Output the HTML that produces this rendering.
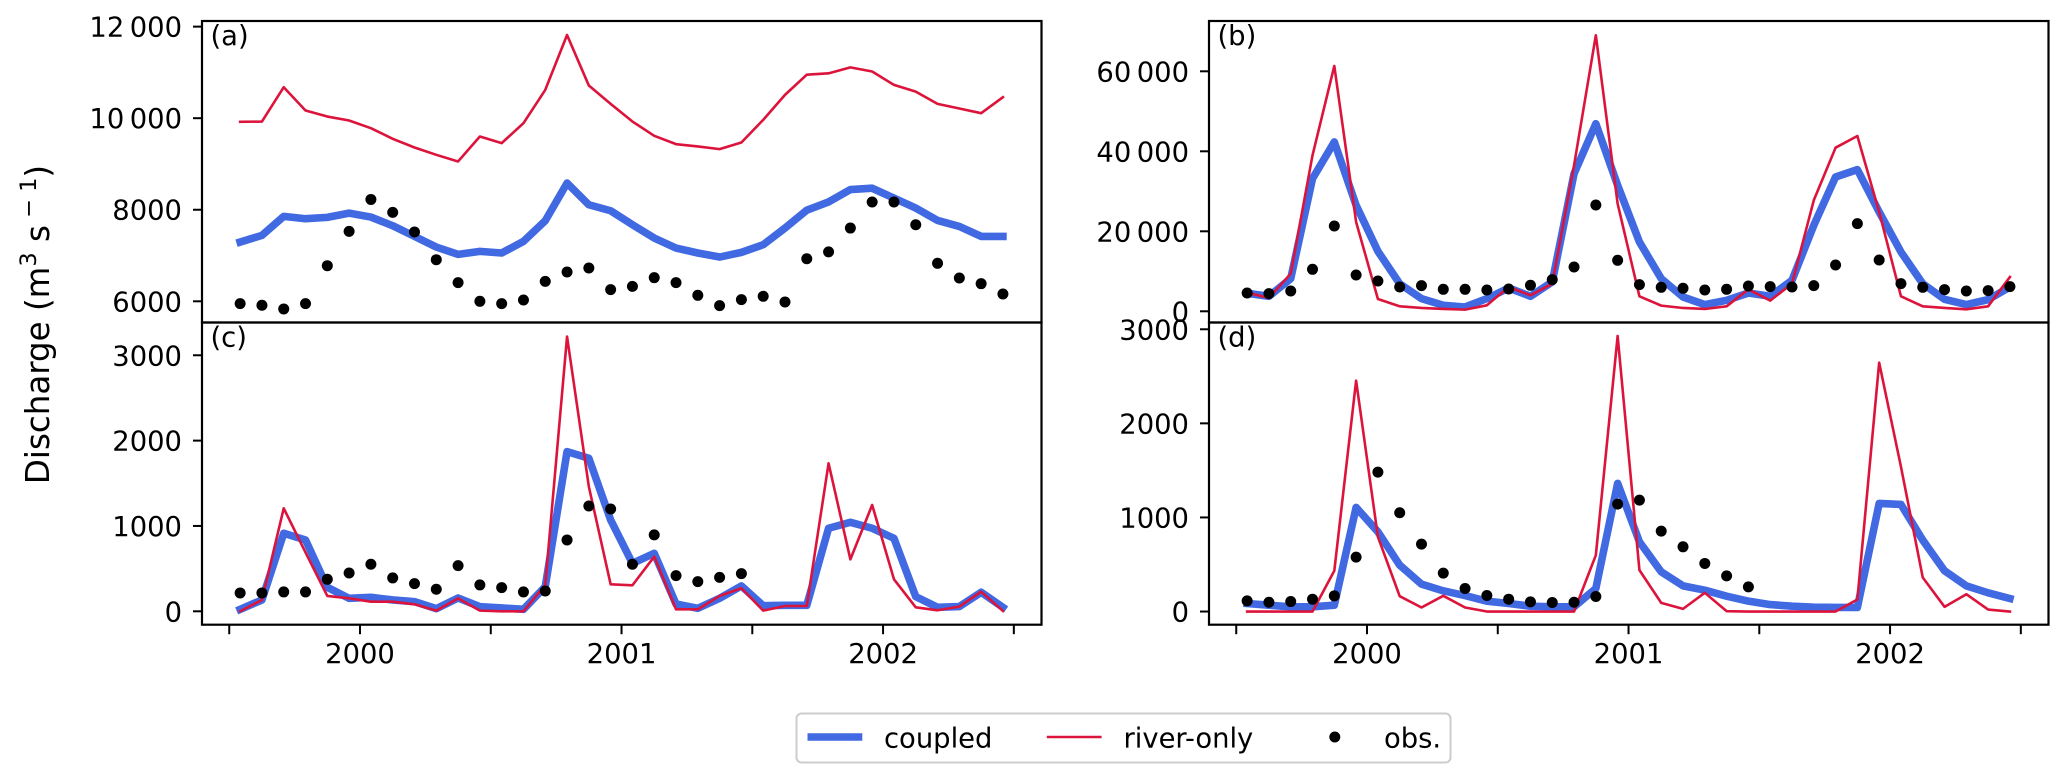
<!DOCTYPE html>
<html lang="en">
<head>
<meta charset="utf-8">
<title>Discharge comparison</title>
<style>
html,body{margin:0;padding:0;background:#fff;width:2067px;height:782px;overflow:hidden}
svg{display:block}
text{font-family:"DejaVu Sans","Liberation Sans",sans-serif;fill:#000}
</style>
</head>
<body>
<svg id="chart" xmlns="http://www.w3.org/2000/svg" width="2067" height="782" viewBox="0 0 2067 782">
  <rect x="0" y="0" width="2067" height="782" fill="#fff"/>
  <g id="panels"></g>
  <text x="0" y="0" transform="translate(49,324.5) rotate(-90)" text-anchor="middle" font-size="32.5">Discharge (m<tspan dy="-13" font-size="22.5">3</tspan><tspan dy="13"> s</tspan><tspan dy="-13" font-size="22.5"> − 1</tspan><tspan dy="13">)</tspan></text>
  <g>
    <rect x="796.5" y="713.5" width="654" height="49" rx="5" ry="5" fill="#fff" stroke="#cccccc" stroke-width="2"/>
    <line x1="807.5" y1="737" x2="862.3" y2="737" stroke="#4169e1" stroke-width="7.6"/>
    <text x="884" y="747.5" font-size="27.4">coupled</text>
    <line x1="1046.8" y1="737" x2="1101.6" y2="737" stroke="#dc143c" stroke-width="2.6"/>
    <text x="1123.5" y="747.5" font-size="27.4">river-only</text>
    <circle cx="1334.8" cy="737" r="5.5" fill="#000"/>
    <text x="1384" y="747.5" font-size="27.4">obs.</text>
  </g>
</svg>
<script>
// Time axis: month offsets from July 1999; points sit mid-month
const monthCount = 36;
const xTickMonths = [0, 6, 12, 18, 24, 30, 36];
const xTickLabels = ["", "2000", "", "2001", "", "2002", ""];

// Panel (a)
const coupledA = [7294,7440,7855,7804,7833,7927,7840,7651,7418,7185,7025,7091,7055,7309,7760,8582,8109,7978,7673,7382,7164,7055,6967,7069,7236,7600,7990,8170,8440,8470,8254,8036,7767,7636,7418,7418];
const riverA = [9920,9927,10676,10167,10036,9949,9782,9549,9360,9200,9055,9600,9455,9891,10618,11818,10713,10313,9927,9615,9433,9382,9324,9469,9964,10509,10950,10980,11110,11020,10727,10581,10313,10211,10109,10458];
const obsA = [5949,5913,5833,5949,6778,7527,8225,7942,7513,6909,6407,6000,5949,6029,6436,6640,6727,6255,6327,6516,6407,6131,5905,6036,6109,5985,6930,7080,7600,8170,8170,7673,6830,6510,6385,6160];
const yTicksA = [6000, 8000, 10000, 12000];
const yTickLabelsA = ["6000", "8000", "10\u2009000", "12\u2009000"];

// Panel (b)
const coupledB = [4500,3750,8170,33170,42330,26500,15000,6900,3170,1500,1080,3170,5830,3750,7330,34420,46900,31500,17330,8170,3580,1670,2750,4580,3750,7750,21500,33580,35420,24830,14830,6900,3000,1670,2920,6080];
const riverB = [4670,3330,9420,39000,61330,22330,3080,1250,830,580,420,1500,6080,4000,6900,36500,69000,26900,3750,1420,830,580,1250,5500,2670,6900,27750,40900,43830,24830,3750,1250,830,500,1250,8580];
const obsB = [4580,4420,5080,10500,21330,9080,7580,6080,6420,5500,5500,5330,5580,6500,7920,11080,26580,12750,6670,6000,5750,5330,5500,6330,6170,6080,6420,11580,21920,12830,6920,6000,5420,5080,5170,6170];
const yTicksB = [0, 20000, 40000, 60000];
const yTickLabelsB = ["0", "20\u2009000", "40\u2009000", "60\u2009000"];

// Panel (c)
const coupledC = [23,133,914,836,281,152,164,133,113,31,156,55,39,23,289,1871,1793,1070,562,680,86,35,152,297,66,70,70,973,1043,973,855,172,47,55,223,47];
const riverC = [0,133,1207,690,180,152,113,113,82,8,152,8,0,0,309,3219,1461,316,305,640,23,23,180,270,8,62,62,1734,609,1246,375,47,12,55,230,4];
const obsC = [215,215,227,227,375,449,551,391,324,258,535,309,277,227,238,836,1234,1199,551,895,418,348,398,441];
const yTicksC = [0, 1000, 2000, 3000];
const yTickLabelsC = ["0", "1000", "2000", "3000"];

// Panel (d)
const coupledD = [85,67,50,50,67,1106,847,493,291,220,170,110,85,57,50,50,245,1362,741,422,273,227,163,110,74,57,46,43,43,1149,1138,759,433,273,199,138];
const riverD = [0,0,0,0,433,2454,794,163,43,167,43,0,0,0,0,0,599,2929,440,92,28,199,4,0,0,0,0,0,128,2645,1539,362,50,184,21,0];
const obsD = [113,99,106,131,167,578,1482,1050,716,408,245,170,131,103,96,99,160,1142,1184,855,688,511,379,262];
const yTicksD = [0, 1000, 2000, 3000];
const yTickLabelsD = ["0", "1000", "2000", "3000"];

const SVG_NS = "http://www.w3.org/2000/svg";
const root = document.getElementById("panels");

function make(tag, attrs, parent) {
  const el = document.createElementNS(SVG_NS, tag);
  Object.keys(attrs).forEach(function (k) { el.setAttribute(k, attrs[k]); });
  parent.appendChild(el);
  return el;
}

function linear(d0, d1, r0, r1) {
  return function (v) { return r0 + (v - d0) * (r1 - r0) / (d1 - d0); };
}

function drawLine(group, xs, ys, values, color, width, name) {
  const pts = values.map(function (v, i) { return xs(i + 0.5).toFixed(2) + "," + ys(v).toFixed(2); }).join(" ");
  const line = make("polyline", { points: pts, fill: "none", stroke: color, "stroke-width": width, "stroke-linejoin": "round", "stroke-linecap": "square" }, group);
  
  
}

function drawPanel(cfg) {
  const g = make("g", {}, root);
  
  

  const xs = linear(-1.25, 37.27, cfg.left, cfg.left + 839.5);
  const ys = linear(cfg.yMin, cfg.yMax, cfg.bottom, cfg.top);

  drawLine(g, xs, ys, cfg.coupled, "#4169e1", 7.6, "coupled-line-" + cfg.id);
  drawLine(g, xs, ys, cfg.river, "#dc143c", 2.6, "river-only-line-" + cfg.id);

  cfg.obs.forEach(function (v, i) {
    const dot = make("circle", { cx: xs(i + 0.5).toFixed(2), cy: ys(v).toFixed(2), r: 5.5, fill: "#000" }, g);
    
    
  });

  const frame = make("rect", { x: cfg.left, y: cfg.top, width: 839.5, height: cfg.bottom - cfg.top, fill: "none", stroke: "#000", "stroke-width": 2.2 }, g);
  
  

  cfg.yTicks.forEach(function (v, i) {
    const y = ys(v);
    const tick = make("line", { x1: cfg.left - 9, x2: cfg.left, y1: y, y2: y, stroke: "#000", "stroke-width": 2 }, g);
    
    
    const label = make("text", { x: cfg.left - 20, y: y + 10, "text-anchor": "end", "font-size": 27.4 }, g);
    label.textContent = cfg.yTickLabels[i];
    
    
  });

  if (cfg.showX) {
    xTickMonths.forEach(function (m, i) {
      const x = xs(m);
      const tick = make("line", { x1: x, x2: x, y1: cfg.bottom, y2: cfg.bottom + 9.5, stroke: "#000", "stroke-width": 2 }, g);
      
      
      if (xTickLabels[i]) {
        const label = make("text", { x: x, y: 663, "text-anchor": "middle", "font-size": 27.4 }, g);
        label.textContent = xTickLabels[i];
        
        
      }
    });
  }

  const tag = make("text", { x: cfg.left + 8.5, y: cfg.top + 24, "font-size": 27.4 }, g);
  tag.textContent = "(" + cfg.id + ")";
  
  
}

drawPanel({ id: "a", left: 202, top: 21, bottom: 322.5, yMin: 5537, yMax: 12123, coupled: coupledA, river: riverA, obs: obsA, yTicks: yTicksA, yTickLabels: yTickLabelsA, showX: false });
drawPanel({ id: "b", left: 1209, top: 21, bottom: 322.5, yMin: -2800, yMax: 72575, coupled: coupledB, river: riverB, obs: obsB, yTicks: yTicksB, yTickLabels: yTickLabelsB, showX: false });
drawPanel({ id: "c", left: 202, top: 322.5, bottom: 624.7, yMin: -157, yMax: 3384, coupled: coupledC, river: riverC, obs: obsC, yTicks: yTicksC, yTickLabels: yTickLabelsC, showX: true });
drawPanel({ id: "d", left: 1209, top: 322.5, bottom: 624.7, yMin: -140, yMax: 3072, coupled: coupledD, river: riverD, obs: obsD, yTicks: yTicksD, yTickLabels: yTickLabelsD, showX: true });
</script>
</body>
</html>
